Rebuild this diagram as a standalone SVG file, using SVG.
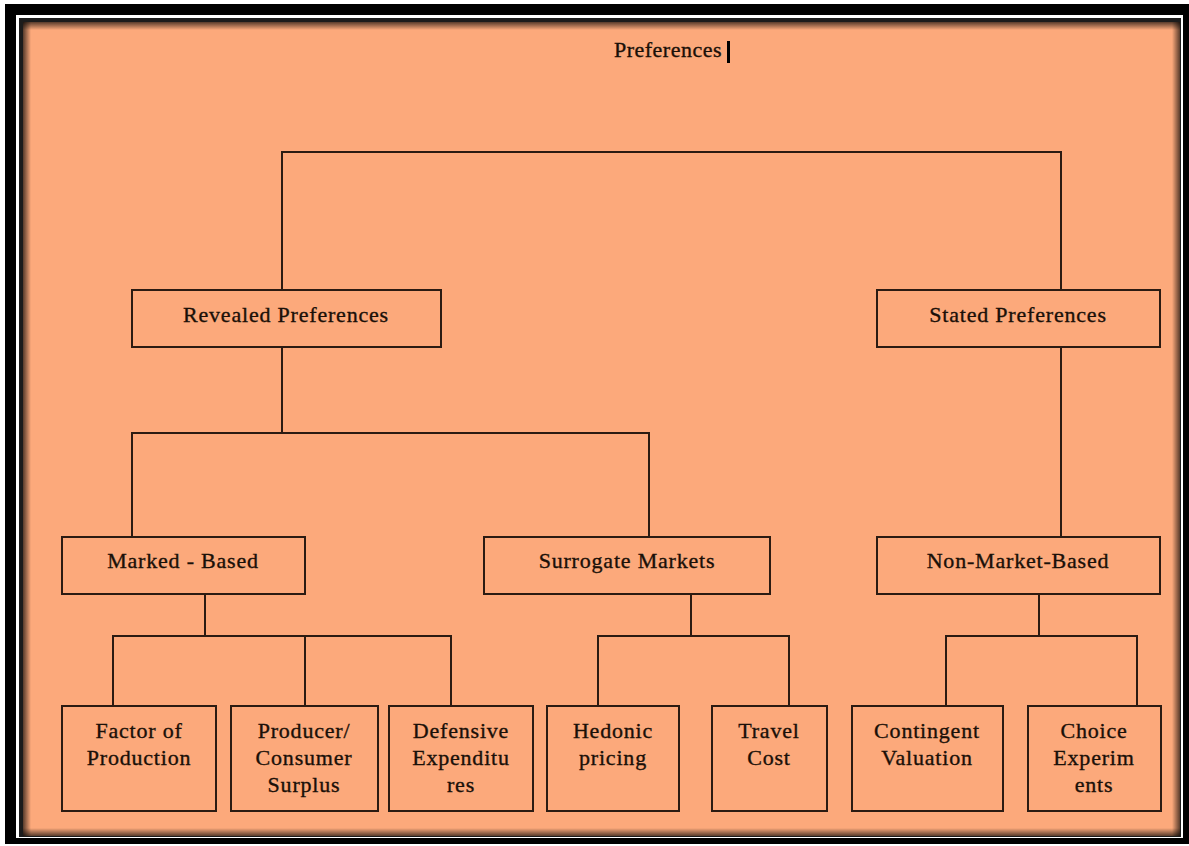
<svg xmlns="http://www.w3.org/2000/svg" width="1189" height="846" viewBox="0 0 1189 846">
<defs>
<style>
.box{fill:none;stroke:#2b1b12;stroke-width:2}
.ln{fill:none;stroke:#2b1b12;stroke-width:2}
text{font-family:"Liberation Serif","Times New Roman",serif;font-size:22px;fill:#1a1008;stroke:#1a1008;stroke-width:0.35;text-anchor:middle;letter-spacing:0.8px}
</style>
<linearGradient id="gT" x1="0" y1="0" x2="0" y2="1"><stop offset="0" stop-color="#000" stop-opacity="0.65"/><stop offset="1" stop-color="#000" stop-opacity="0"/></linearGradient>
<linearGradient id="gB" x1="0" y1="1" x2="0" y2="0"><stop offset="0" stop-color="#000" stop-opacity="0.65"/><stop offset="1" stop-color="#000" stop-opacity="0"/></linearGradient>
<linearGradient id="gL" x1="0" y1="0" x2="1" y2="0"><stop offset="0" stop-color="#000" stop-opacity="0.65"/><stop offset="1" stop-color="#000" stop-opacity="0"/></linearGradient>
<linearGradient id="gR" x1="1" y1="0" x2="0" y2="0"><stop offset="0" stop-color="#000" stop-opacity="0.65"/><stop offset="1" stop-color="#000" stop-opacity="0"/></linearGradient>
</defs>
<rect width="1189" height="846" fill="#fff"/>
<g id="frame">
<rect x="5" y="4" width="1184" height="840" fill="#000"/>
<rect x="16" y="15" width="1167" height="823" fill="#fff"/>
<rect x="19" y="18" width="1162" height="819" fill="#1c1c1c"/>
<rect x="23" y="22" width="1157" height="814" fill="#fca97b"/>
<rect x="23" y="22" width="1157" height="8" fill="url(#gT)"/>
<rect x="23" y="828" width="1157" height="8" fill="url(#gB)"/>
<rect x="23" y="22" width="8" height="814" fill="url(#gL)"/>
<rect x="1172" y="22" width="8" height="814" fill="url(#gR)"/>
</g>
<g id="title">
<text x="668" y="57" style="letter-spacing:0.5px">Preferences</text>
<rect x="727" y="41" width="3" height="22" fill="#000"/>
</g>
<g id="connectors">
<polyline class="ln" points="282,290 282,152 1061,152 1061,290"/>
<line class="ln" x1="282" y1="347" x2="282" y2="433"/>
<polyline class="ln" points="132,537 132,433 649,433 649,537"/>
<line class="ln" x1="1061" y1="347" x2="1061" y2="537"/>
<line class="ln" x1="205" y1="594" x2="205" y2="636"/>
<polyline class="ln" points="113,706 113,636 451,636 451,706"/>
<line class="ln" x1="305" y1="636" x2="305" y2="706"/>
<line class="ln" x1="691" y1="594" x2="691" y2="636"/>
<polyline class="ln" points="598,706 598,636 789,636 789,706"/>
<line class="ln" x1="1039" y1="594" x2="1039" y2="636"/>
<polyline class="ln" points="946,706 946,636 1137,636 1137,706"/>
</g>
<g id="revealed"><rect class="box" x="132" y="290" width="309" height="57"/><text x="286" y="322">Revealed Preferences</text></g>
<g id="stated"><rect class="box" x="877" y="290" width="283" height="57"/><text x="1018" y="322">Stated Preferences</text></g>
<g id="marked"><rect class="box" x="62" y="537" width="243" height="57"/><text x="183" y="568">Marked - Based</text></g>
<g id="surrogate"><rect class="box" x="484" y="537" width="286" height="57"/><text x="627" y="568">Surrogate Markets</text></g>
<g id="nonmarket"><rect class="box" x="877" y="537" width="283" height="57"/><text x="1018" y="568">Non-Market-Based</text></g>
<g id="factor"><rect class="box" x="62" y="706" width="154" height="105"/><text x="139" y="738">Factor of</text><text x="139" y="765">Production</text></g>
<g id="producer"><rect class="box" x="231" y="706" width="147" height="105"/><text x="304" y="738">Producer/</text><text x="304" y="765">Consumer</text><text x="304" y="792">Surplus</text></g>
<g id="defensive"><rect class="box" x="389" y="706" width="144" height="105"/><text x="461" y="738">Defensive</text><text x="461" y="765">Expenditu</text><text x="461" y="792">res</text></g>
<g id="hedonic"><rect class="box" x="547" y="706" width="132" height="105"/><text x="613" y="738">Hedonic</text><text x="613" y="765">pricing</text></g>
<g id="travel"><rect class="box" x="712" y="706" width="115" height="105"/><text x="769" y="738">Travel</text><text x="769" y="765">Cost</text></g>
<g id="contingent"><rect class="box" x="852" y="706" width="151" height="105"/><text x="927" y="738">Contingent</text><text x="927" y="765">Valuation</text></g>
<g id="choice"><rect class="box" x="1028" y="706" width="133" height="105"/><text x="1094" y="738">Choice</text><text x="1094" y="765">Experim</text><text x="1094" y="792">ents</text></g>
</svg>
